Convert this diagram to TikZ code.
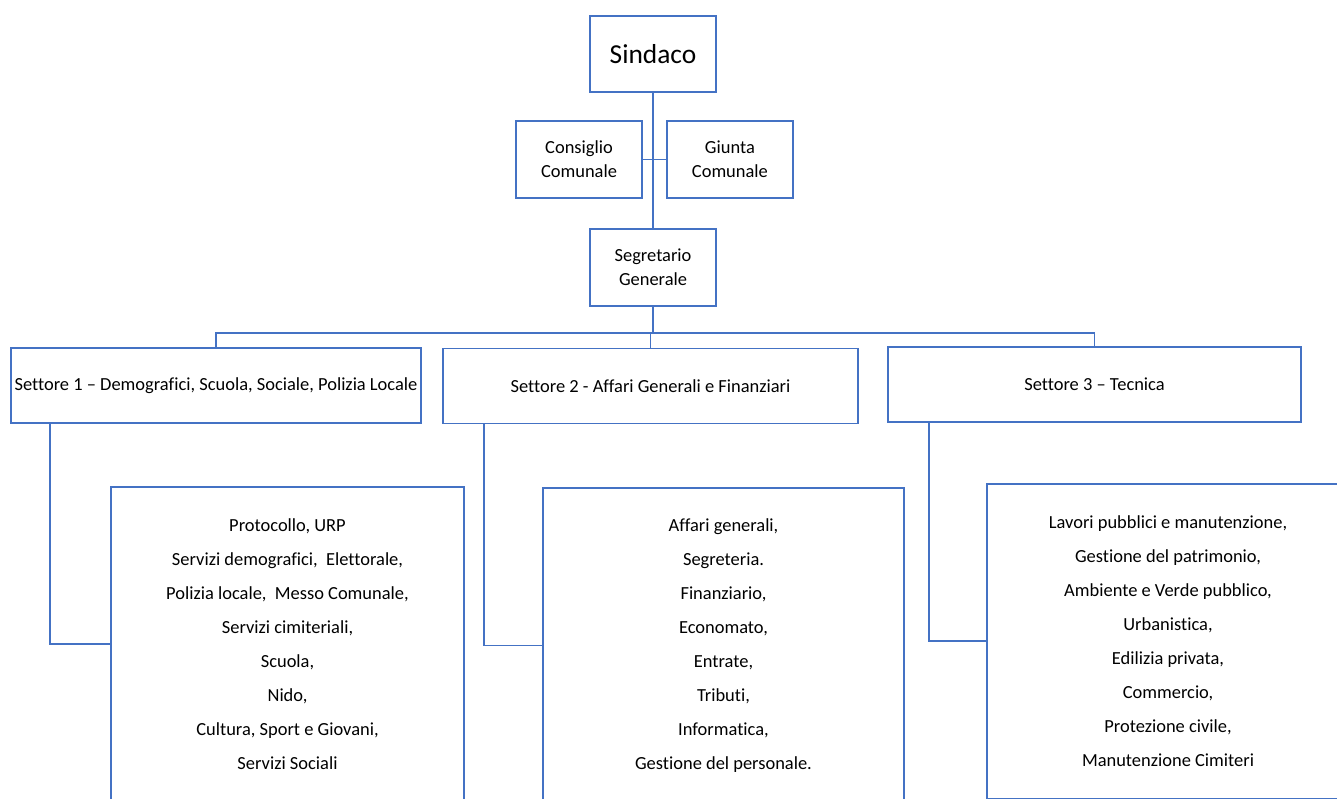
\documentclass[tikz,border=0pt]{standalone}
\usepackage{fontspec}
\setmainfont{Carlito}[Ligatures=NoCommon]
\usepackage{tikz}
\usetikzlibrary{positioning}
\definecolor{lineablu}{RGB}{68,114,196}
\tikzstyle{carica}=[%
      rectangle, draw=lineablu, line width=1.1pt, fill=white,
      minimum width=2.52cm, minimum height=1.53cm, inner sep=0pt, align=center,
      font=\fontsize{10.5}{13.6}\selectfont
]
\tikzstyle{settore}=[%
      carica, minimum height=1.5cm
]
\tikzstyle{elenco}=[%
      carica, minimum height=6.3cm, font=\fontsize{10.5}{19.3}\selectfont
]
\tikzstyle{filo}=[%
      draw=lineablu, line width=1.1pt
]
\begin{document}
\begin{tikzpicture}[x=0.02cm, y=-0.02cm]
    \useasboundingbox (0,0) rectangle (1337,798);
    \clip (0,0) rectangle (1337,798);

    % vertice
    \node[carica, font=\fontsize{15.6}{18}\selectfont] (sindaco) at (653,54) {Sindaco};
    \node[carica] (consiglio) at (579,159.5) {Consiglio\\Comunale};
    \node[carica] (giunta) [right=0.46cm of consiglio] {Giunta\\Comunale};
    \node[carica] (segretario) [below=2.7cm of sindaco] {Segretario\\Generale};
    \coordinate (bus) at (653,333);

    % settori
    \node[settore, minimum width=8.2cm]  (set1) at (216,385.5) {Settore 1 -- Demografici, Scuola, Sociale, Polizia Locale};
    \node[settore, minimum width=8.3cm]  (set2) at (650.5,386) {Settore 2 - Affari Generali e Finanziari};
    \node[settore, minimum width=8.26cm] (set3) at (1094.5,384.5) {Settore 3 -- Tecnica};

    % servizi
    \node[elenco, minimum width=7.06cm] (el1) at (287.5,644) {Protocollo, URP\\
        Servizi demografici,\ \ Elettorale,\\Polizia locale,\ \ Messo Comunale,\\
        Servizi cimiteriali,\\Scuola,\\Nido,\\Cultura, Sport e Giovani,\\Servizi Sociali};
    \node[elenco, minimum width=7.22cm] (el2) at (723.5,645.5) {Affari generali,\\Segreteria.\\
        Finanziario,\\Economato,\\Entrate,\\Tributi,\\Informatica,\\Gestione del personale.};
    \node[elenco, minimum width=7.24cm] (el3) at (1168,641) {Lavori pubblici e manutenzione,\\
        Gestione del patrimonio,\\Ambiente e Verde pubblico,\\Urbanistica,\\Edilizia privata,\\
        Commercio,\\Protezione civile,\\Manutenzione Cimiteri};

    % collegamenti
    \path[filo] (sindaco) -- (segretario)
          (consiglio) -- (giunta)
          (segretario) -- (bus)
          (set1.north) |- (bus) -| (set3.north)
          (set2.north) -- (set2.north |- bus)
          ([xshift=0.8cm]set1.south west) |- (el1.west)
          ([xshift=0.84cm]set2.south west) |- (el2.west)
          ([xshift=0.84cm]set3.south west) |- (el3.west)
    ;

  \end{tikzpicture}
\end{document}
